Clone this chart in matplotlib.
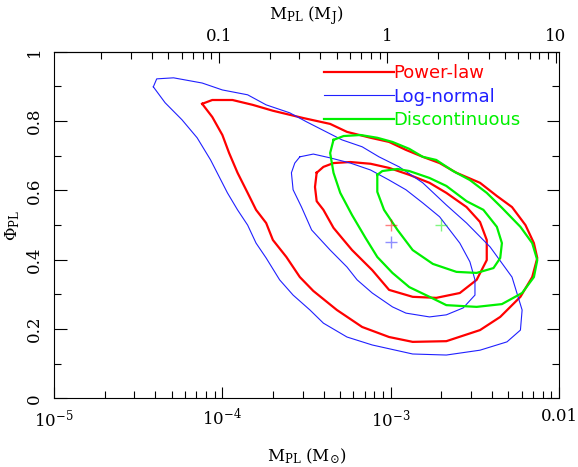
import numpy as np
import matplotlib
matplotlib.use("Agg")
import matplotlib.pyplot as plt
from matplotlib.ticker import FixedLocator, FixedFormatter, LogLocator, NullFormatter, MultipleLocator

MJ = 9.55e-4  # Jupiter mass in solar masses

# contour outlines: log10(M_PL / Msun), Phi_PL
pl_outer_logm = [-4.12, -4.06, -3.94, -3.82, -3.70, -3.52, -3.36, -3.26, -3.12, -3.01, -2.91, -2.81,
                 -2.71, -2.61, -2.47, -2.37, -2.28, -2.20, -2.15, -2.13, -2.16, -2.23, -2.35, -2.47,
                 -2.67, -2.87, -3.01, -3.17, -3.32, -3.46, -3.54, -3.62, -3.70, -3.74, -3.80, -3.85,
                 -3.91, -3.96, -4.00, -4.06]
pl_outer_phi = [0.850, 0.861, 0.861, 0.847, 0.830, 0.809, 0.792, 0.769, 0.752, 0.740, 0.717, 0.697,
                0.679, 0.651, 0.622, 0.584, 0.552, 0.500, 0.448, 0.405, 0.350, 0.293, 0.235, 0.197,
                0.165, 0.163, 0.177, 0.206, 0.255, 0.310, 0.350, 0.408, 0.457, 0.506, 0.544, 0.593,
                0.651, 0.708, 0.760, 0.812]

pl_inner_logm = [-3.44, -3.40, -3.34, -3.24, -3.12, -3.01, -2.89, -2.77, -2.67, -2.55, -2.47, -2.43,
                 -2.43, -2.49, -2.59, -2.73, -2.87, -3.01, -3.11, -3.23, -3.28, -3.34, -3.40, -3.44,
                 -3.45]
pl_inner_phi = [0.651, 0.668, 0.679, 0.682, 0.677, 0.665, 0.645, 0.622, 0.593, 0.552, 0.509, 0.457,
                0.399, 0.342, 0.304, 0.290, 0.293, 0.313, 0.370, 0.428, 0.457, 0.492, 0.544, 0.569,
                0.610]

ln_outer_logm = [-4.41, -4.39, -4.29, -4.12, -4.00, -3.85, -3.74, -3.60, -3.50, -3.29, -3.17, -3.07,
                 -2.95, -2.81, -2.67, -2.55, -2.41, -2.28, -2.22, -2.23, -2.31, -2.47, -2.67, -2.87,
                 -3.11, -3.26, -3.40, -3.48, -3.58, -3.66, -3.74, -3.80, -3.85, -3.91, -3.97, -4.07,
                 -4.15, -4.24, -4.34]
ln_outer_phi = [0.899, 0.922, 0.925, 0.910, 0.890, 0.876, 0.847, 0.824, 0.798, 0.746, 0.726, 0.697,
                0.668, 0.622, 0.558, 0.506, 0.437, 0.350, 0.255, 0.197, 0.163, 0.139, 0.125, 0.128,
                0.154, 0.177, 0.217, 0.255, 0.298, 0.342, 0.405, 0.448, 0.500, 0.544, 0.593, 0.688,
                0.752, 0.804, 0.853]

ln_inner_logm = [-3.54, -3.46, -3.36, -3.24, -3.12, -3.01, -2.91, -2.81, -2.71, -2.65, -2.59, -2.53,
                 -2.50, -2.50, -2.57, -2.67, -2.77, -2.91, -2.99, -3.11, -3.20, -3.26, -3.36, -3.47,
                 -3.53, -3.58, -3.59, -3.57]
ln_inner_phi = [0.697, 0.705, 0.694, 0.679, 0.659, 0.630, 0.602, 0.564, 0.524, 0.486, 0.448, 0.394,
                0.342, 0.298, 0.261, 0.241, 0.235, 0.246, 0.264, 0.304, 0.342, 0.379, 0.428, 0.486,
                0.552, 0.602, 0.651, 0.679]

dc_outer_logm = [-3.34, -3.28, -3.18, -3.08, -2.99, -2.89, -2.81, -2.73, -2.63, -2.53, -2.43, -2.34,
                 -2.23, -2.16, -2.13, -2.15, -2.22, -2.34, -2.49, -2.67, -2.77, -2.89, -2.99, -3.08,
                 -3.15, -3.23, -3.30, -3.34, -3.36]
dc_outer_phi = [0.746, 0.757, 0.760, 0.752, 0.740, 0.720, 0.697, 0.688, 0.656, 0.630, 0.593, 0.550,
                0.495, 0.448, 0.399, 0.350, 0.304, 0.272, 0.264, 0.269, 0.293, 0.321, 0.362, 0.408,
                0.463, 0.529, 0.593, 0.651, 0.708]

dc_inner_logm = [-3.08, -3.05, -2.96, -2.89, -2.77, -2.67, -2.55, -2.45, -2.37, -2.34, -2.35, -2.39,
                 -2.49, -2.61, -2.75, -2.87, -2.96, -3.04, -3.08]
dc_inner_phi = [0.645, 0.656, 0.662, 0.656, 0.636, 0.613, 0.569, 0.544, 0.495, 0.448, 0.405, 0.376,
                0.362, 0.365, 0.388, 0.428, 0.486, 0.544, 0.596]

# best-fit positions (power-law, log-normal, discontinuous)
best_m = [1.0e-3, 1.0e-3, 2.0e-3]
best_phi = [0.50, 0.45, 0.50]

RED, BLUE, GREEN = "#ff0000", "#2020ff", "#00f000"

plt.rcParams["font.family"] = "DejaVu Serif"
plt.rcParams["mathtext.fontset"] = "dejavuserif"

fig = plt.figure(figsize=(5.78, 4.67), dpi=100)
ax = fig.add_axes([0.0934, 0.147, 0.874, 0.742])


def closed(logm, phi):
    m = 10 ** np.append(logm, logm[0])
    p = np.append(phi, phi[0])
    return m, p


ax.plot(*closed(pl_outer_logm, pl_outer_phi), color=RED, lw=1.6, label="Power-law")
ax.plot(*closed(pl_inner_logm, pl_inner_phi), color=RED, lw=1.6)
ax.plot(*closed(ln_outer_logm, ln_outer_phi), color=BLUE, lw=0.8, label="Log-normal")
ax.plot(*closed(ln_inner_logm, ln_inner_phi), color=BLUE, lw=0.8)
ax.plot(*closed(dc_outer_logm, dc_outer_phi), color=GREEN, lw=1.6, label="Discontinuous")
ax.plot(*closed(dc_inner_logm, dc_inner_phi), color=GREEN, lw=1.6)

for m, p, c in zip(best_m, best_phi, [RED, BLUE, GREEN]):
    ax.plot(m, p, "+", color=c, ms=8, mew=1.0, alpha=0.5)

ax.set_xscale("log")
ax.set_xlim(1e-5, 1e-2)
ax.set_ylim(0, 1)

ax.xaxis.set_major_locator(FixedLocator([1e-5, 1e-4, 1e-3, 1e-2]))
ax.xaxis.set_major_formatter(FixedFormatter([r"$10^{-5}$", r"$10^{-4}$", r"$10^{-3}$", "0.01"]))
ax.xaxis.set_minor_locator(LogLocator(base=10, subs=np.arange(2, 10)))
ax.xaxis.set_minor_formatter(NullFormatter())
ax.yaxis.set_minor_locator(MultipleLocator(0.1))
ax.set_yticks([0, 0.2, 0.4, 0.6, 0.8, 1.0])
ax.set_yticklabels(["0", "0.2", "0.4", "0.6", "0.8", "1"], rotation=90, va="center")

ax.tick_params(which="both", direction="in", top=False, right=True, labelsize=12, width=0.8)
ax.tick_params(axis="x", which="major", length=8, pad=7)
ax.tick_params(axis="y", which="major", length=9, pad=8)
ax.tick_params(which="minor", length=5)
for s in ax.spines.values():
    s.set_linewidth(0.8)

sec = ax.secondary_xaxis("top", functions=(lambda m: m / MJ, lambda j: j * MJ))
sec.xaxis.set_major_locator(FixedLocator([0.1, 1, 10]))
sec.xaxis.set_major_formatter(FixedFormatter(["0.1", "1", "10"]))
sec.xaxis.set_minor_locator(LogLocator(base=10, subs=np.arange(2, 10)))
sec.xaxis.set_minor_formatter(NullFormatter())
sec.tick_params(which="both", direction="in", labelsize=12, width=0.8)
sec.tick_params(which="major", length=8, pad=5)
sec.tick_params(which="minor", length=5)
sec.set_xlabel(r"$\mathrm{M_{PL}\ (M_J)}$", fontsize=12, labelpad=6.5)

ax.set_xlabel(r"$\mathrm{M_{PL}\ (M_{\odot})}$", fontsize=12, labelpad=12)
ax.set_ylabel(r"$\Phi_{\rm PL}$", fontsize=12, labelpad=3)

leg = ax.legend(loc="upper left", bbox_to_anchor=(0.517, 0.99), frameon=False,
                handlelength=3.85, handletextpad=0.0, labelspacing=0.30, borderpad=0,
                labelcolor="linecolor", prop={"family": "DejaVu Sans", "size": 13})

fig.savefig("out.png", dpi=100)
